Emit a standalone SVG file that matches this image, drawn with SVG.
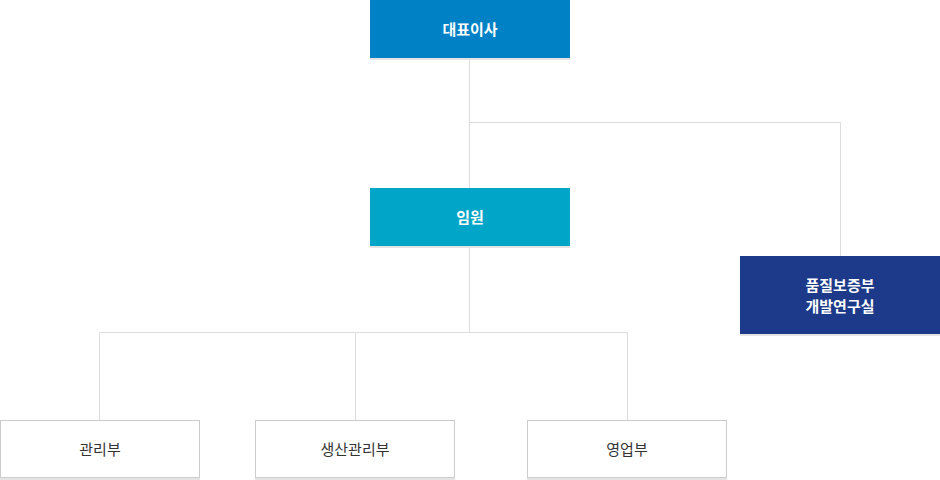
<svg xmlns="http://www.w3.org/2000/svg" width="940" height="480" viewBox="0 0 940 480">
<style>
.shadow{fill:#e4e4e4}
.t{font-family:"Noto Sans CJK KR","Noto Sans",sans-serif;font-size:15px;text-anchor:middle}
.w{fill:#ffffff;font-weight:bold}
.d{fill:#333333}
.line{fill:none;stroke:#dcdcdc;stroke-width:1}
.sub{fill:#ffffff;stroke:#cccccc;stroke-width:1}
</style>
<rect width="940" height="480" fill="#ffffff"/>
<g id="connectors">
<path class="line" d="M469.5 58 V332 M469.5 122.5 H840.5 V256 M99.5 420 V332.5 H627.5 V420 M355.5 332 V420"/>
</g>
<g id="ceo">
<rect class="shadow" x="370" y="58" width="200" height="2"/>
<rect x="370" y="0" width="200" height="58" fill="#0081c6"/>
<text class="t w" x="470" y="35">대표이사</text>
</g>
<g id="exec">
<rect class="shadow" x="370" y="246" width="200" height="2"/>
<rect x="370" y="188" width="200" height="58" fill="#00a5c8"/>
<text class="t w" x="470" y="223">임원</text>
</g>
<g id="qa">
<rect class="shadow" x="740" y="334" width="200" height="2"/>
<rect x="740" y="256" width="200" height="78" fill="#1d3a8a"/>
<text class="t w" x="840" y="291">품질보증부</text>
<text class="t w" x="840" y="312">개발연구실</text>
</g>
<g id="admin">
<rect class="shadow" x="0" y="478" width="200" height="2"/>
<rect class="sub" x="0.5" y="420.5" width="199" height="57"/>
<text class="t d" x="100" y="455">관리부</text>
</g>
<g id="production">
<rect class="shadow" x="255" y="478" width="200" height="2"/>
<rect class="sub" x="255.5" y="420.5" width="199" height="57"/>
<text class="t d" x="355" y="455">생산관리부</text>
</g>
<g id="sales">
<rect class="shadow" x="527" y="478" width="200" height="2"/>
<rect class="sub" x="527.5" y="420.5" width="199" height="57"/>
<text class="t d" x="627" y="455">영업부</text>
</g>
</svg>
